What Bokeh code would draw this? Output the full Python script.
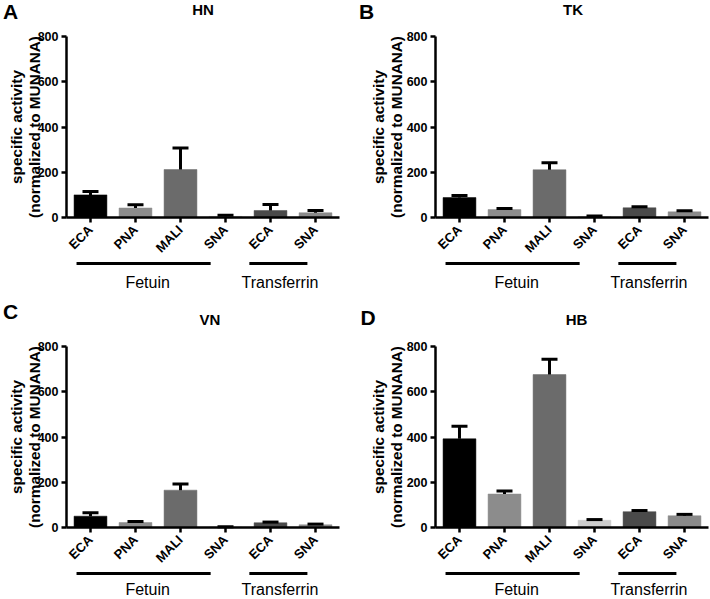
import math
from bokeh.plotting import figure
from bokeh.models import (Range1d, FixedTicker, Whisker, TeeHead, ColumnDataSource,
                          LinearAxis)
from bokeh.core.properties import value
from bokeh.layouts import row, column
from bokeh.embed import file_html
from bokeh.resources import INLINE

# ---------------- data ----------------
categories = ["ECA", "PNA", "MALI", "SNA", "ECA", "SNA"]
positions = [0, 1, 2, 3, 4, 5]
bar_colors = ["#000000", "#8c8c8c", "#6b6b6b", "#cdcdcd", "#4a4a4a", "#8a8a8a"]
y_ticks = [0, 200, 400, 600, 800]

group_names = ["Fetuin", "Transferrin"]
group_first = [0, 4]
group_last = [3, 5]

hn_mean = [100, 42, 212, 5, 31, 21]
hn_err = [15, 14, 95, 5, 26, 10]

tk_mean = [88, 35, 211, 4, 43, 25]
tk_err = [9, 5, 31, 3, 4, 5]

vn_mean = [50, 22, 165, 2, 21, 12]
vn_err = [15, 5, 27, 1, 3, 3]

hb_mean = [392, 148, 676, 32, 70, 52]
hb_err = [55, 13, 68, 3, 5, 6]

y_label = "specific activity\n(normalized to MUNANA)"

# ---------------- styling helpers ----------------
FONT = "Liberation Sans"
X0, X1 = -0.533, 5.533
FRAME_W, FRAME_H = 273, 181
XPP = (X1 - X0) / FRAME_W
YPP = 800.0 / FRAME_H


def make_panel(letter, title, means, errs, width, height, left, top,
               letter_px, title_dx, title_dy, ylabel_dx, group_dy):
    right = width - left - FRAME_W
    bottom = height - top - FRAME_H
    xr = Range1d(X0 - left * XPP, X1 + right * XPP)
    yr = Range1d(-bottom * YPP, 800 + top * YPP)
    p = figure(width=width, height=height, x_range=xr, y_range=yr,
               x_axis_location=None, y_axis_location=None,
               output_backend="svg", toolbar_location=None,
               min_border=0)
    p.outline_line_color = None
    p.grid.visible = False
    p.background_fill_color = "white"
    p.border_fill_color = "white"

    src = ColumnDataSource(dict(
        x=positions, top=means,
        upper=[m + e for m, e in zip(means, errs)],
        color=bar_colors))
    p.vbar(x="x", top="top", width=0.73, fill_color="color",
           line_color="color", line_width=0.5, source=src)
    p.add_layout(Whisker(source=src, base="x", lower="top", upper="upper",
                         line_color="black", line_width=3,
                         upper_head=TeeHead(size=16, line_width=3,
                                            line_color="black"),
                         lower_head=None, level="overlay"))

    # axes (fixed at data locations, inside the full-size frame)
    xaxis = LinearAxis(fixed_location=0, bounds=(X0, X1),
                       ticker=FixedTicker(ticks=positions),
                       major_label_overrides={i: c for i, c in zip(positions, categories)},
                       major_label_orientation=math.pi / 4,
                       major_label_text_font_size="13px",
                       major_label_standoff=5)
    yaxis = LinearAxis(fixed_location=X0, bounds=(0, 800),
                       ticker=FixedTicker(ticks=y_ticks),
                       major_label_text_font_size="12.5px",
                       major_label_standoff=3)
    for ax in (xaxis, yaxis):
        ax.axis_line_width = 2.5
        ax.axis_line_color = "black"
        ax.major_tick_line_width = 2.5
        ax.major_tick_line_color = "black"
        ax.major_tick_out = 5
        ax.major_tick_in = 0
        ax.minor_tick_line_color = None
        ax.major_label_text_font = FONT
        ax.major_label_text_font_style = "bold"
        ax.major_label_text_color = "black"
    p.add_layout(xaxis, "below")
    p.add_layout(yaxis, "left")

    # y-axis title
    p.text(x=[X0 + ylabel_dx * XPP], y=[400], text=[y_label], angle=math.pi / 2,
           text_font=value(FONT), text_font_style="bold", text_font_size="15.3px",
           text_align="center", text_baseline="middle", text_color="black",
           text_line_height=1.1)

    # panel letter and title
    lx, ly = letter_px
    p.text(x=[X0 + (lx - left) * XPP], y=[800 + (top - ly) * YPP], text=[letter],
           text_font=value(FONT), text_font_style="bold", text_font_size="21px",
           text_align="center", text_baseline="middle", text_color="black")
    p.text(x=[(X0 + X1) / 2 + title_dx * XPP], y=[800 + (top - title_dy) * YPP],
           text=[title], text_font=value(FONT), text_font_style="bold",
           text_font_size="15px", text_align="center", text_baseline="middle",
           text_color="black")

    # group brackets
    starts = [-0.31, -0.47]
    ends = [-0.33, -0.18]
    text_x = [1.27, 4.21]
    p.segment(x0=[f + s for f, s in zip(group_first, starts)],
              y0=[-46 * YPP] * 2,
              x1=[l + e for l, e in zip(group_last, ends)],
              y1=[-46 * YPP] * 2, line_width=3, line_color="black")
    p.text(x=text_x, y=[-group_dy * YPP] * 2, text=group_names, text_font=value(FONT),
           text_font_size="16px", text_align="center", text_baseline="middle",
           text_color="black")
    return p


pA = make_panel("A", "HN", hn_mean, hn_err, 355, 300, 66, 36, (10, 10.5), 0, 9, -41, 65)
pB = make_panel("B", "TK", tk_mean, tk_err, 355, 300, 80, 36, (11, 10.5), 1, 8.5, -48, 65)
pC = make_panel("C", "VN", vn_mean, vn_err, 355, 299, 66, 46, (10, 11), 7, 18.5, -41, 62)
pD = make_panel("D", "HB", hb_mean, hb_err, 355, 299, 80, 46, (12.5, 16.5), 4.5, 18.5, -48, 62)

layout = column(row(pA, pB), row(pC, pD))

open("out.html", "w").write(file_html(layout, INLINE))
